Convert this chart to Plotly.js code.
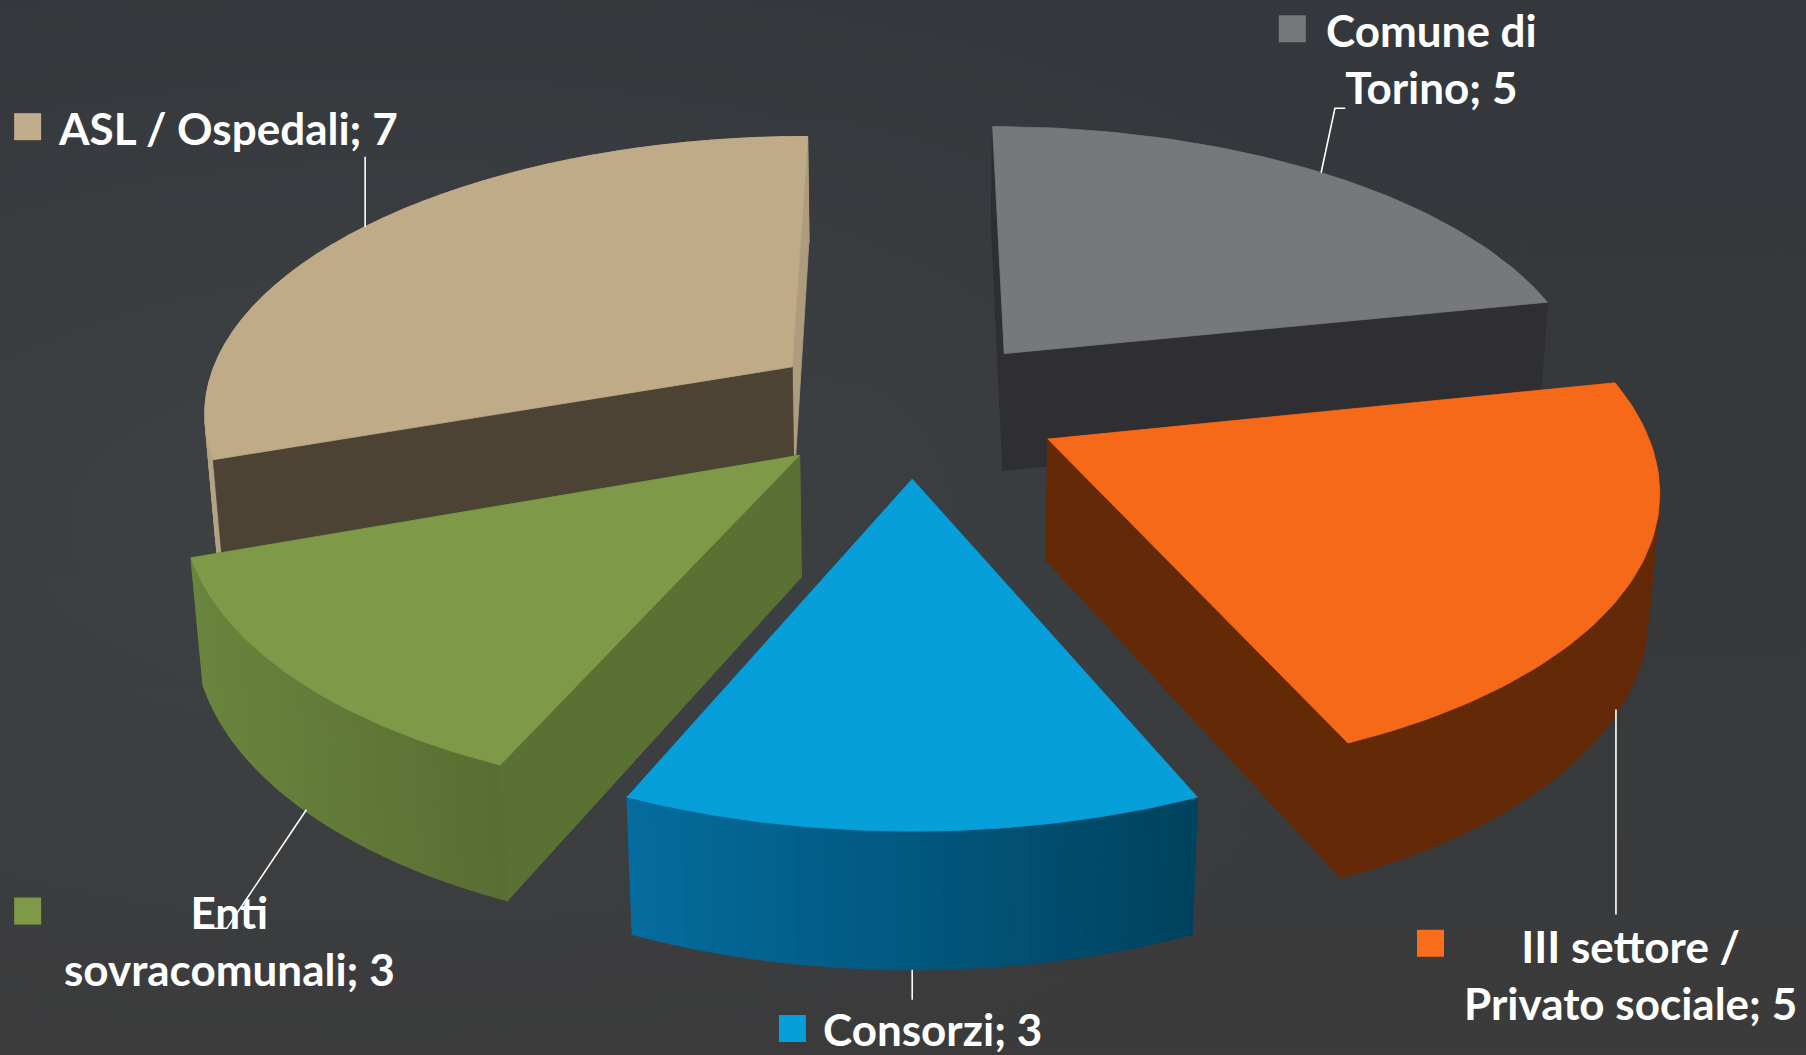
<!DOCTYPE html>
<html><head><meta charset="utf-8">
<script src="https://cdn.plot.ly/plotly-3.0.1.min.js"></script>
<style>
html,body{margin:0;padding:0;width:1806px;height:1055px;overflow:hidden;
background:radial-gradient(ellipse 65% 55% at 22% 50%,#3f4245 0%,rgba(63,66,69,0) 100%),linear-gradient(180deg,#34373b 0%,#36393c 50%,#3b3b3b 100%);}
#chart{width:1806px;height:1055px;}
</style></head><body><div id="chart"></div>
<script>
// Data
const categories = ["Comune di Torino","III settore / Privato sociale","Consorzi","Enti sovracomunali","ASL / Ospedali"];
const values = [5,5,3,3,7];
const labelTexts = ["Comune di<br>Torino; 5","III settore /<br>Privato sociale; 5","Consorzi; 3","Enti<br>sovracomunali; 3","ASL / Ospedali; 7"];

// Styles
const topColors  = ["#76797b","#f66918","#069fd9","#7e9947","#bfab88"];
const startWall  = ["#2f2f33","#642a08","#03577c","#5b7033","#4c4335"];
const endWall    = ["#2f2f33","#642a08","#03577c","#5b7033","#ad9c7e"];
const outerLeft  = ["#2f2f33","#642a08","#056c9e","#6a853e","#b3a386"];
const outerRight = ["#2f2f33","#642a08","#00435e","#5a6d33","#b3a386"];
const legendColors = ["#76797b","#f96d1c","#069fd9","#7e9947","#c2ae8c"];

// Projection parameters (pie plane to the picture's axes)
const view = {cx:792, cy:352.8, A:513, a:186.6, k:0.149, C:110.8, m:0.0155, explode:0.254};
const project = (X,Y,Z)=>{
  const w = 1 - view.k*Y + view.m*Z;
  return [view.cx + view.A*X/w, (view.a*Y + view.cy + view.C*Z)/w];
};

const traces = [];
const poly = (pts,color,lw)=>{
  const c = pts.concat([pts[0]]);
  traces.push({type:"scatter",mode:"lines",x:c.map(p=>p[0]),y:c.map(p=>p[1]),
    fill:"toself",fillcolor:color,line:{color:color,width:lw||0.8},hoverinfo:"skip",showlegend:false});
};
const hex = s=>[1,3,5].map(i=>parseInt(s.substr(i,2),16));
const mix = (a,b,t)=>{const p=hex(a),q=hex(b);return "rgb("+p.map((v,i)=>Math.round(v+(q[i]-v)*t)).join(",")+")";};

const total = values.reduce((s,v)=>s+v,0);
const wedges = [];
let acc = 0;
values.forEach((v,i)=>{
  const t0 = acc/total*2*Math.PI; acc += v; const t1 = acc/total*2*Math.PI;
  const mid = (t0+t1)/2;
  wedges.push({i,t0,t1,ox:view.explode*Math.sin(mid),oy:-view.explode*Math.cos(mid)});
});
const drawWedge = w=>{
  const P = (r,t,Z)=>project(w.ox+r*Math.sin(t),w.oy-r*Math.cos(t),Z);
  const i = w.i, n = 40;
  const xs = [];
  for(let s=0;s<=n;s++) xs.push(P(1,w.t0+(w.t1-w.t0)*s/n,0)[0]);
  const lo=Math.min(...xs),hi=Math.max(...xs);
  const bands = (front)=>{
    for(let s=0;s<n;s++){
      const a=w.t0+(w.t1-w.t0)*s/n,b=w.t0+(w.t1-w.t0)*(s+1)/n;
      if((Math.cos((a+b)/2)<0)!==front) continue;
      const xm=(P(1,a,0)[0]+P(1,b,0)[0])/2;
      poly([P(1,a,0),P(1,b,0),P(1,b,1),P(1,a,1)],mix(outerLeft[i],outerRight[i],(xm-lo)/(hi-lo)),1.4);
    }
  };
  const wallStart = ()=>poly([P(0,0,0),P(1,w.t0,0),P(1,w.t0,1),P(0,0,1)],startWall[i]);
  const wallEnd   = ()=>poly([P(0,0,0),P(1,w.t1,0),P(1,w.t1,1),P(0,0,1)],endWall[i]);
  const startFaces = Math.sin(w.t0) < -1e-9;  // start wall turned toward the viewer
  const endFaces   = Math.sin(w.t1) >  1e-9;  // end wall turned toward the viewer
  bands(false);                  // rim facing away
  if(!startFaces) wallStart();
  if(!endFaces) wallEnd();
  bands(true);                   // rim facing the viewer
  if(startFaces) wallStart();
  if(endFaces) wallEnd();
  const top=[P(0,0,0)];
  for(let s=0;s<=72;s++) top.push(P(1,w.t0+(w.t1-w.t0)*s/72,0));
  poly(top,topColors[i]);
};
// painter's order: far wedges first
[0,4,3,1,2].forEach(i=>drawWedge(wedges[i]));

// Leader lines
const leaderX = [[1168,1159,1147],[1403,1403],[792,792],[266,197,185],[317,317]];
const leaderY = [[94,94,150],[616,794],[842,868],[703,806,806],[136,197]];
leaderX.forEach((xs,i)=>traces.push({type:"scatter",mode:"lines",x:xs,y:leaderY[i],
  line:{color:"#ffffff",width:1.6},hoverinfo:"skip",showlegend:false}));

// Legend keys
const keyX = [1122,1242,688,24,24];
const keyY = [25,819,893,791,110];
traces.push({type:"scatter",mode:"markers",x:keyX,y:keyY,
  marker:{symbol:"square",size:27,color:legendColors,line:{width:0}},hoverinfo:"skip",showlegend:false});

// Labels
const labelX = [1243,1416,810,199,198];
const labelY = [51,846,893,817,111];
const annotations = labelTexts.map((t,i)=>({x:labelX[i],y:labelY[i],xref:"x",yref:"y",text:"<b>"+t+"</b>",
  showarrow:false,xanchor:"center",yanchor:"middle",align:"center",
  font:{family:"Lato, 'Open Sans', sans-serif",size:44,color:"#ffffff"}}));

Plotly.newPlot("chart",traces,{
  width:1806,height:1055,margin:{l:0,r:0,t:0,b:0},
  paper_bgcolor:"rgba(0,0,0,0)",plot_bgcolor:"rgba(0,0,0,0)",showlegend:false,
  xaxis:{range:[0,1568],visible:false,fixedrange:true},
  yaxis:{range:[916,0],visible:false,fixedrange:true},
  annotations
},{staticPlot:true,displayModeBar:false});
</script></body></html>
